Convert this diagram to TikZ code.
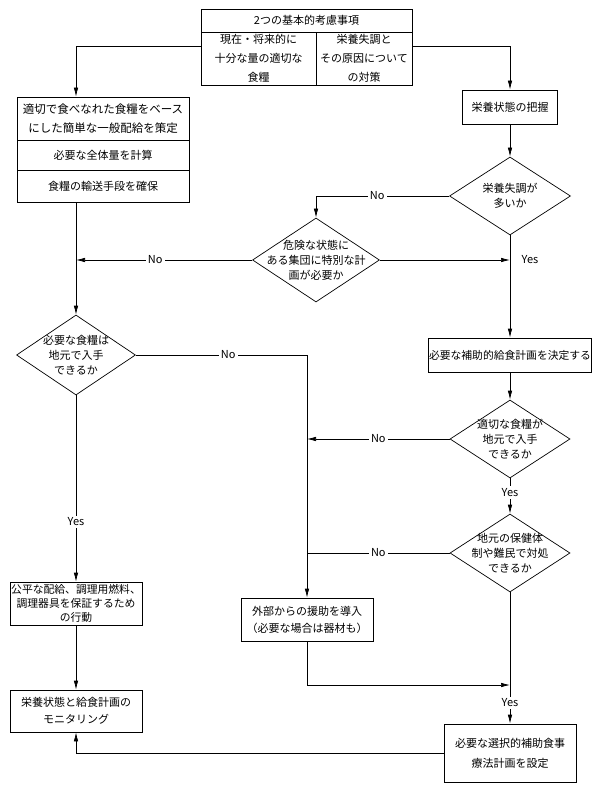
\documentclass[tikz,border=0pt]{standalone}
\usepackage{fontspec}
\setmainfont{Noto Sans CJK JP}
\usetikzlibrary{shapes.geometric,arrows.meta}

\begin{document}
\begin{tikzpicture}[x=1pt, y=-1pt, line width=0.7pt,
    box/.style={draw, rectangle, inner sep=0pt, align=center, font=\fontsize{11}{15}\selectfont},
    dia/.style={draw, diamond, inner sep=0pt},
    dtext/.style={align=center, inner sep=0pt, font=\fontsize{11}{15}\selectfont},
    arr/.style={-{Latex[length=9pt,width=4.5pt]}},
    lbl/.style={fill=white, inner sep=2pt, font=\fontsize{11}{12}\selectfont}]
        \useasboundingbox (0,0) rectangle (600,791);

        % Basic considerations
        \node[box, minimum width=211pt, minimum height=23pt] (title) at (306.5,20.5) {2つの基本的考慮事項};
        \node[box, minimum width=115pt, minimum height=53pt, font=\fontsize{11}{19}\selectfont] (cellL) at (258.5,58.5) {現在・将来的に\\十分な量の適切な\\食糧};
        \node[box, minimum width=96pt, minimum height=53pt, font=\fontsize{11}{19}\selectfont] (cellR) at (364,58.5) {栄養失調と\\その原因について\\の対策};

        % Left column
        \node[box, minimum width=172pt, minimum height=43pt, font=\fontsize{11.5}{19}\selectfont] (gen1a) at (103,118.5) {適切で食べなれた食糧をベース\\にした簡単な一般配給を策定};
        \node[box, minimum width=172pt, minimum height=30pt] (gen1b) at (103,155) {必要な全体量を計算};
        \node[box, minimum width=172pt, minimum height=32pt] (gen1c) at (103,186) {食糧の輸送手段を確保};
        \node[dia, minimum width=119pt, minimum height=80pt,
            label={[dtext]center:{必要な食糧は\\地元で入手\\できるか}}] (d3) at (76,355) {};
        \node[box, minimum width=132pt, minimum height=43pt, font=\fontsize{10.8}{14}\selectfont] (fair) at (76,603.5) {公平な配給、調理用燃料、\\調理器具を保証するため\\の行動};
        \node[box, minimum width=132pt, minimum height=42pt, font=\fontsize{11}{17}\selectfont] (mon) at (76,711) {栄養状態と給食計画の\\モニタリング};

        % Middle
        \node[dia, minimum width=127pt, minimum height=84pt,
            label={[dtext]center:{危険な状態に\\ある集団に特別な計\\画が必要か}}] (d2) at (316,260) {};
        \node[box, minimum width=132pt, minimum height=43pt, font=\fontsize{11}{17}\selectfont] (ext) at (307,619.5) {外部からの援助を導入\\（必要な場合は器材も）};

        % Right column
        \node[box, minimum width=95pt, minimum height=34pt] (assess) at (510,107) {栄養状態の把握};
        \node[dia, minimum width=121pt, minimum height=78pt,
            label={[dtext]center:{栄養失調が\\多いか}}] (d1) at (510,196) {};
        \node[box, minimum width=163pt, minimum height=34pt, font=\fontsize{10.8}{15}\selectfont] (supp) at (510,355) {必要な補助的給食計画を決定する};
        \node[dia, minimum width=120pt, minimum height=78pt,
            label={[dtext]center:{適切な食糧が\\地元で入手\\できるか}}] (d4) at (510,439) {};
        \node[dia, minimum width=120pt, minimum height=78pt,
            label={[dtext]center:{地元の保健体\\制や難民で対処\\できるか}}] (d5) at (510,553) {};
        \node[box, minimum width=132pt, minimum height=58pt, font=\fontsize{11}{20}\selectfont] (sel) at (510,753) {必要な選択的補助食事\\療法計画を設定};
        \coordinate (join) at (510,685);

        % Connectors
        \draw[arr] ([yshift=-15pt]cellL.north west) -| (d3 |- gen1a.north);
        \draw[arr] ([yshift=-15pt]cellR.north east) -| (assess.north);
        \draw[arr] (assess.south) -- (d1.north);
        \draw[arr] (d1.west) -| node[lbl, pos=0.27] {No} (d2.north);
        \draw[arr] (d1.south) -- (supp.north);
        \node[right, font=\fontsize{11}{12}\selectfont, xshift=8pt] (yes1) at (d2 -| d1) {Yes};
        \draw[arr] (d2.east) -- (d2 -| d1);
        \draw[arr] (d2.west) -- node[lbl, pos=0.55] {No} (d2 -| d3);
        \draw[arr] (d3 |- gen1c.south) -- (d3.north);
        \draw[arr] (d3.east) -| node[lbl, pos=0.27] {No} (ext.north);
        \draw[arr] (supp.south) -- (d4.north);
        \draw[arr] (d4.west) -- node[lbl, pos=0.5] {No} (d4 -| ext);
        \draw[arr] (d4.south) -- node[lbl, pos=0.4] {Yes} (d5.north);
        \draw (d5.west) -- node[lbl, pos=0.5] {No} (d5 -| ext);
        \draw[arr] (d5.south) -- node[lbl, pos=0.84] {Yes} (sel.north);
        \draw[arr] (ext.south) |- (join);
        \draw[arr] (d3.south) -- node[lbl, pos=0.68] {Yes} (fair.north);
        \draw[arr] (fair.south) -- (mon.north);
        \draw[arr] (sel.west) -| (mon.south);
    \end{tikzpicture}
\end{document}
